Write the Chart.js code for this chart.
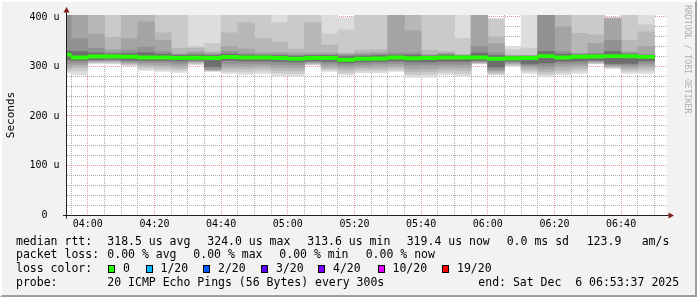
<!DOCTYPE html>
<html>
<head>
<meta charset="utf-8">
<script src="https://cdn.jsdelivr.net/npm/chart.js@4/dist/chart.umd.min.js"></script>
<style>
html,body{margin:0;padding:0;background:#f2f2f2;overflow:hidden}
#wrap{width:697px;height:297px;position:relative}
canvas{display:block}
</style>
</head>
<body>
<div id="wrap"><canvas id="c" width="697" height="297"></canvas></div>
<script>
// ---------- data (values in microseconds) ----------
const slotEnds = ['03:55','04:00','04:05','04:10','04:15','04:20','04:25','04:30','04:35','04:40','04:45','04:50',
  '04:55','05:00','05:05','05:10','05:15','05:20','05:25','05:30','05:35','05:40','05:45','05:50','05:55',
  '06:00','06:05','06:10','06:15','06:20','06:25','06:30','06:35','06:40','06:45','06:50'];
const median = [324.0,318,320,320,319.5,318,318,317,317.5,317,319,318,318,317,315.5,317,317,313.6,315.5,316,
  318,316.5,317,318,318,318,315.5,316.5,317,321,318,319.5,320,321,320.5,319.4];
const upper1 = [470,465,450,440,445,450,440,435,420,425,440,440,440,430,435,430,425,399,430,430,460,450,430,430,425,460,397,340,425,470,460,435,435,399,435,425];
const upper2 = [455,448,430,425,428,432,422,418,340,347,418,420,420,388,418,415,366,374,415,415,445,435,415,415,357,445,396,333,337,455,445,420,420,398,420,384];
const upper3 = [440,432,415,359,412,416,368,337,337,330,368,388,357,349,335,388,343,327,333,334,430,418,333,330,324,430,360,323,323,440,430,367,364,398,353,370];
const upper4 = [425,418,365,334,356,390,353,326,330,327,340,335,328,328,327,327,327,325,327,328,415,372,324,327,323,415,347,322,322,425,380,327,347,397,330,340];
const upper5 = [412,356,337,328,333,339,330,324,326,324,330,326,325,325,323,324,324,323,324,325,327,327,322,325,322,340,327,321,321,410,330,325,327,353,327,324];
const upper6 = [331,330,327,325,326,328,325,322,323,322,325,323,322,322,321,322,322,320,321,322,323,323,321,323,321,327,322,320,320,330,325,323,324,330,325,322];
const lower6 = [314,312,314,315,313,312,312,311,313,300,312,311,311,310,309,311,310,307,309,310,311,309,309,310,310,312,299,311,305,307,310,311,313,306,306,311];
const lower5 = [306,307,312,313,310,308,308,306,311,295,306,306,306,304,303,309,305,302,304,305,306,302,303,304,304,310,294,308,302,300,305,306,311,303,302,306];
const lower4 = [300,303,310,311,307,304,303,301,309,293,300,300,301,298,297,307,300,297,299,300,301,295,296,299,298,308,291,306,298,294,299,301,309,301,298,301];
const lower3 = [295,298,309,309,305,300,299,296,307,292,295,295,296,292,292,305,296,292,295,295,297,289,290,293,292,307,288,304,294,289,293,296,307,299,294,296];
const lower2 = [291,291,307,307,303,296,294,292,305,291,290,289,291,287,286,304,293,287,291,291,293,283,284,288,286,306,285,302,290,284,288,291,306,297,290,291];
const lower1 = [287,283,306,305,301,292,290,288,303,290,286,284,286,281,281,303,290,283,287,287,290,278,278,283,281,305,283,300,286,279,283,286,305,296,286,286];

const xTickLabels = ['04:00','04:20','04:40','05:00','05:20','05:40','06:00','06:20','06:40'];
const yTickValues = [0,100,200,300,400];
const yTickLabels = ['0  ','100 u','200 u','300 u','400 u'];
const graphEnd = '06:53:37';
const graphSpanMin = 180;

const rttLabel = 'median rtt:';
const rttStats = ['318.5 us avg','324.0 us max','313.6 us min','319.4 us now','0.0 ms sd','123.9','am/s'];
const lossLabel = 'packet loss:';
const lossStats = ['0.00 % avg','0.00 % max','0.00 % min','0.00 % now'];
const lossColorLabel = 'loss color:';
const lossLabels = ['0','1/20','2/20','3/20','4/20','10/20','19/20'];
const lossColors = ['#26ff00','#00b8ff','#0059ff','#5e00ff','#7e00ff','#dd00ff','#ff0000'];
const probeLabel = 'probe:';
const probeText = '20 ICMP Echo Pings (56 Bytes) every 300s';
const endText = 'end: Sat Dec  6 06:53:37 2025';
const yTitle = 'Seconds';
const watermark = 'RRDTOOL / TOBI OETIKER';

// ---------- helpers ----------
function toMin(s){const p=s.split(':').map(Number);return p[0]*60+p[1]+(p[2]||0)/60;}
const endMin = toMin(graphEnd);
const startMin = endMin - graphSpanMin;
const SLOT = 5;
const MED_HALF = 3.3;
const MONO = "'DejaVu Sans Mono', 'Liberation Mono', monospace";
const xLabelMap = {}; xTickLabels.forEach(l => xLabelMap[toMin(l)] = l);
const yLabelMap = {}; yTickValues.forEach((v,i) => yLabelMap[v] = yTickLabels[i]);

const levels = [
  {lo: lower1, hi: upper1, color: '#dddddd'},
  {lo: lower2, hi: upper2, color: '#cacaca'},
  {lo: lower3, hi: upper3, color: '#b7b7b7'},
  {lo: lower4, hi: upper4, color: '#a4a4a4'},
  {lo: lower5, hi: upper5, color: '#919191'},
  {lo: lower6, hi: upper6, color: '#6e6e6e'}
];
const datasets = levels.map((lv, k) => ({
  data: slotEnds.map((t,i) => ({x: toMin(t) - SLOT/2, y: [lv.lo[i], lv.hi[i]]})),
  backgroundColor: lv.color, borderWidth: 0, grouped: false,
  barPercentage: 1, categoryPercentage: 1, order: levels.length - k
}));
datasets.push({
  data: slotEnds.map((t,i) => ({x: toMin(t) - SLOT/2, y: [median[i]-MED_HALF, median[i]+MED_HALF]})),
  backgroundColor: lossColors[0], borderWidth: 0, grouped: false,
  barPercentage: 1, categoryPercentage: 1, order: 0
});

const MINOR = 'rgba(143,143,143,0.75)';
const MAJOR = 'rgba(222,79,79,0.6)';

const framePlugin = {
  id: 'frame',
  beforeDraw(chart){
    const {ctx, width:w, height:h, chartArea:a} = chart;
    ctx.save();
    ctx.fillStyle = '#f2f2f2'; ctx.fillRect(0,0,w,h);
    ctx.fillStyle = '#ffffff';
    ctx.beginPath(); ctx.moveTo(0,h); ctx.lineTo(2,h-2); ctx.lineTo(2,2); ctx.lineTo(w-2,2); ctx.lineTo(w,0); ctx.lineTo(0,0); ctx.closePath(); ctx.fill();
    ctx.fillStyle = '#9e9e9e';
    ctx.beginPath(); ctx.moveTo(2,h-2); ctx.lineTo(w-2,h-2); ctx.lineTo(w-2,2); ctx.lineTo(w,0); ctx.lineTo(w,h); ctx.lineTo(0,h); ctx.closePath(); ctx.fill();
    ctx.fillStyle = '#ffffff'; ctx.fillRect(a.left, a.top, a.right-a.left, a.bottom-a.top);
    ctx.restore();
  },
  afterDraw(chart){
    const {ctx, chartArea:a} = chart;
    ctx.save();
    // axes
    ctx.strokeStyle = '#1f1f1f'; ctx.lineWidth = 1;
    const yb = a.bottom + 0.5;
    ctx.beginPath(); ctx.moveTo(a.left, yb + 3); ctx.lineTo(a.left, a.top - 3); ctx.stroke();
    ctx.beginPath(); ctx.moveTo(a.left - 3.5, yb); ctx.lineTo(a.right + 3, yb); ctx.stroke();
    ctx.fillStyle = '#801f1f';
    ctx.beginPath(); ctx.moveTo(a.left, a.top - 8); ctx.lineTo(a.left - 3, a.top - 2.5); ctx.lineTo(a.left + 3, a.top - 2.5); ctx.closePath(); ctx.fill();
    ctx.beginPath(); ctx.moveTo(a.right + 7.5, yb); ctx.lineTo(a.right + 2, yb - 3); ctx.lineTo(a.right + 2, yb + 3); ctx.closePath(); ctx.fill();
    // legend text
    ctx.font = '11.5px ' + MONO; ctx.fillStyle = '#000'; ctx.textBaseline = 'middle'; ctx.textAlign = 'left';
    const rows = [241.6, 255.2, 268.9, 282.6];
    const x0 = 16;
    ctx.fillText(rttLabel, x0, rows[0]);
    const rttX = [107.3, 207.3, 307.3, 406.7, 506.7, 586.7, 641.7];
    rttStats.forEach((s,i) => ctx.fillText(s, rttX[i], rows[0]));
    ctx.fillText(lossLabel, x0, rows[1]);
    const lossX = [107.3, 193.3, 279.3, 365.7];
    lossStats.forEach((s,i) => ctx.fillText(s, lossX[i], rows[1]));
    ctx.fillText(lossColorLabel, x0, rows[2]);
    const boxX = [108, 145.5, 203, 261, 318, 377.5, 442];
    lossLabels.forEach((s,i) => {
      const bx = Math.round(boxX[i]);
      ctx.fillStyle = lossColors[i]; ctx.fillRect(bx, 265, 7, 8);
      ctx.strokeStyle = '#000'; ctx.strokeRect(bx + 0.5, 265.5, 6, 7);
      ctx.fillStyle = '#000'; ctx.fillText(s, boxX[i] + 15, rows[2]);
    });
    ctx.fillText(probeLabel, x0, rows[3]);
    ctx.fillText(probeText, 107.3, rows[3]);
    ctx.fillText(endText, 478.3, rows[3]);
    // watermark
    ctx.translate(687.5, 5); ctx.rotate(Math.PI/2);
    ctx.font = '8.2px ' + MONO; ctx.fillStyle = 'rgba(0,0,0,0.3)';
    ctx.fillText(watermark, 0, 0);
    ctx.restore();
  }
};

new Chart(document.getElementById('c'), {
  type: 'bar',
  data: { datasets },
  options: {
    responsive: false, animation: false, devicePixelRatio: 1, events: [],
    layout: { padding: { top: 15, right: 30.5, bottom: 0, left: 0 } },
    plugins: { legend: { display: false }, tooltip: { enabled: false }, title: { display: false } },
    scales: {
      x: {
        type: 'linear', min: startMin, max: endMin, offset: false, z: 1,
        afterBuildTicks: s => { s.ticks = slotEnds.map(t => ({ value: toMin(t) })); },
        afterFit: s => { s.height = 82; },
        ticks: { autoSkip: false, maxRotation: 0, minRotation: 0, padding: 3, color: '#000',
          font: { family: MONO, size: 10 }, callback: v => xLabelMap[v] || '' },
        grid: { offset: false, drawTicks: false, lineWidth: 1,
          color: c => (c.tick && c.tick.value % 20 === 0) ? MAJOR : MINOR },
        border: { display: false, dash: [1, 1] }
      },
      y: {
        type: 'linear', min: 0, max: 404, z: 1,
        afterBuildTicks: s => { const t = []; for (let v = 0; v <= 400; v += 20) t.push({ value: v }); s.ticks = t; },
        afterFit: s => { s.width = 66.5; },
        ticks: { autoSkip: false, padding: 7, color: '#000', font: { family: MONO, size: 10 },
          callback: v => (yLabelMap[v] !== undefined ? yLabelMap[v] : '') },
        grid: { drawTicks: false, lineWidth: 1,
          color: c => (c.tick && c.tick.value % 100 === 0) ? MAJOR : MINOR },
        border: { display: false, dash: [1, 1] },
        title: { display: true, text: yTitle, color: '#000', font: { family: MONO, size: 11 }, padding: { top: 4.4, bottom: 0 } }
      }
    }
  },
  plugins: [framePlugin]
});
</script>
</body>
</html>
